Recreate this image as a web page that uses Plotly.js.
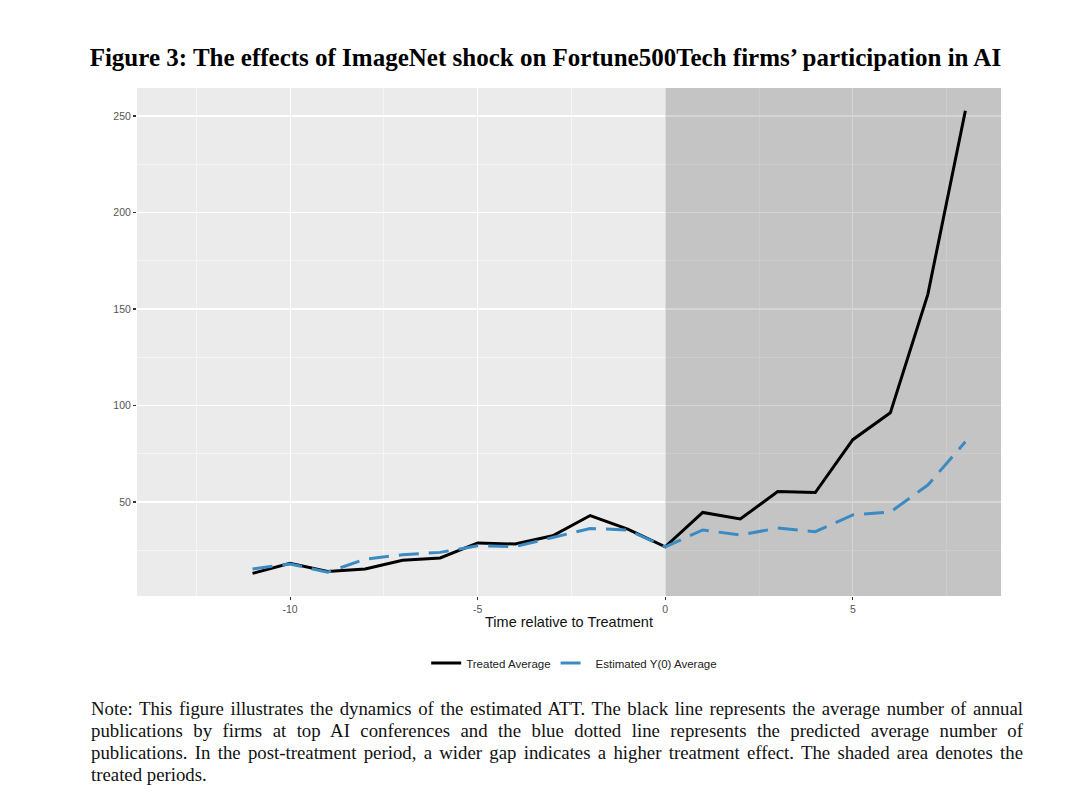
<!DOCTYPE html>
<html>
<head>
<meta charset="utf-8">
<script src="https://cdn.plot.ly/plotly-3.0.1.min.js"></script>
<style>
  html, body { margin: 0; padding: 0; background: #ffffff; }
  #wrap { position: relative; width: 1080px; height: 799px; }
  #chart { position: absolute; left: 0; top: 0; width: 1080px; height: 799px; }
  #note {
    position: absolute; left: 91px; top: 698px; width: 932px;
    font-family: "Liberation Serif", "Times New Roman", serif;
    font-size: 18.8px; line-height: 22px; color: #111;
  }
  #note .ln { text-align: justify; text-align-last: justify; white-space: nowrap; word-spacing: -2px; }
  #note .ln.last { text-align: left; text-align-last: left; word-spacing: 0; }
</style>
</head>
<body>
<div id="wrap">
  <div id="chart"></div>
  <div id="note">
    <div class="ln">Note: This figure illustrates the dynamics of the estimated ATT. The black line represents the average number of annual</div>
    <div class="ln">publications by firms at top AI conferences and the blue dotted line represents the predicted average number of</div>
    <div class="ln">publications. In the post-treatment period, a wider gap indicates a higher treatment effect. The shaded area denotes the</div>
    <div class="ln last">treated periods.</div>
  </div>
</div>
<script>
// ---- data ----
const periods = [-11, -10, -9, -8, -7, -6, -5, -4, -3, -2, -1, 0, 1, 2, 3, 4, 5, 6, 7, 8];
const treatedAverage = [13.0, 18.2, 14.0, 15.3, 19.8, 21.0, 28.8, 28.2, 32.5, 43.0, 36.0, 26.8, 44.6, 41.2, 55.4, 54.9, 82.3, 96.2, 157.6, 252.7];
const estimatedY0Average = [15.3, 17.9, 13.6, 20.4, 22.7, 23.9, 27.3, 26.9, 31.6, 36.3, 35.5, 26.8, 35.5, 32.9, 36.5, 34.6, 43.3, 44.8, 58.8, 81.2];
const xTickVals = [-10, -5, 0, 5];
const xTickText = ["-10", "-5", "0", "5"];
const xMinorVals = [-12.5, -7.5, -2.5, 2.5, 7.5];
const yTickVals = [50, 100, 150, 200, 250];
const yTickText = ["50", "100", "150", "200", "250"];
const yMinorVals = [25, 75, 125, 175, 225];
const seriesNames = ["Treated Average", "Estimated Y(0) Average"];
const treatStart = 0;
const xRange = [-14.08, 8.95];
const yRange = [1.3, 264.5];

const traces = [
  {
    // shaded treated period (drawn as a filled trace so it sits above the grid)
    x: [treatStart, xRange[1], xRange[1], treatStart],
    y: [yRange[0], yRange[0], yRange[1], yRange[1]],
    type: "scatter", mode: "lines", fill: "toself",
    fillcolor: "rgba(0,0,0,0.166)", line: { width: 0, color: "rgba(0,0,0,0)" },
    showlegend: false, hoverinfo: "skip"
  },
  {
    x: periods, y: treatedAverage, name: seriesNames[0],
    type: "scatter", mode: "lines",
    line: { color: "#000000", width: 3 }
  },
  {
    x: periods, y: estimatedY0Average, name: seriesNames[1],
    type: "scatter", mode: "lines",
    line: { color: "#3b8bc2", width: 3, dash: "20px,10px" }
  }
];

const tickFont = { family: "Liberation Sans, Arial, sans-serif", size: 10.5, color: "#555555" };

const layout = {
  width: 1080, height: 799,
  paper_bgcolor: "rgba(0,0,0,0)",
  plot_bgcolor: "#ebebeb",
  margin: { l: 137, r: 79, t: 88, b: 203 },
  showlegend: true,
  title: {
    text: "<b>Figure 3: The effects of ImageNet shock on Fortune500Tech firms’ participation in AI</b>",
    font: { family: "Liberation Serif, Times New Roman, serif", size: 25, color: "#000" },
    xref: "container", x: 0.505, xanchor: "center",
    yref: "container", y: 1 - 57 / 799, yanchor: "middle"
  },
  xaxis: {
    range: xRange,
    tickmode: "array", tickvals: xTickVals, ticktext: xTickText,
    ticks: "outside", ticklen: 3, tickwidth: 1.1, tickcolor: "#333333",
    tickfont: tickFont,
    showgrid: true, gridcolor: "#ffffff", gridwidth: 1.1,
    minor: { tickmode: "array", tickvals: xMinorVals, showgrid: true, gridcolor: "#ffffff", gridwidth: 0.5, ticks: "" },
    zeroline: false, showline: false,
    title: { text: "Time relative to Treatment", font: { family: "Liberation Sans, Arial, sans-serif", size: 14.5, color: "#111" }, standoff: 3 }
  },
  yaxis: {
    range: yRange,
    tickmode: "array", tickvals: yTickVals, ticktext: yTickText,
    ticks: "outside", ticklen: 3, tickwidth: 1.1, tickcolor: "#333333",
    tickfont: tickFont,
    showgrid: true, gridcolor: "#ffffff", gridwidth: 1.1,
    minor: { tickmode: "array", tickvals: yMinorVals, showgrid: true, gridcolor: "#ffffff", gridwidth: 0.5, ticks: "" },
    zeroline: false, showline: false
  },
  legend: {
    orientation: "h",
    x: 0.506, xanchor: "center",
    y: -0.132, yanchor: "middle",
    font: { family: "Liberation Sans, Arial, sans-serif", size: 11.5, color: "#222" },
    bgcolor: "rgba(0,0,0,0)",
    itemwidth: 30,
    tracegroupgap: 0
  }
};

Plotly.newPlot("chart", traces, layout, { displayModeBar: false, staticPlot: true });
</script>
</body>
</html>
